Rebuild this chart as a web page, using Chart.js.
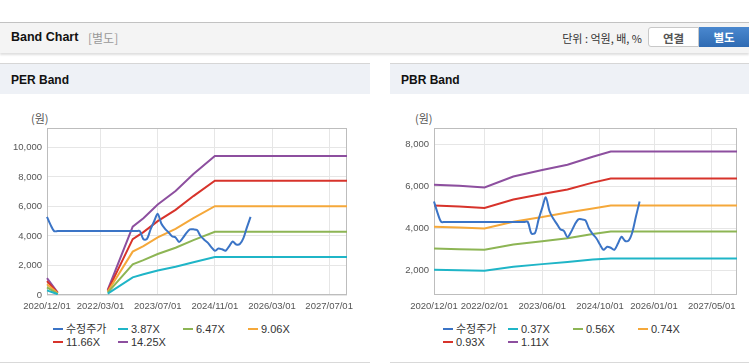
<!DOCTYPE html>
<html>
<head>
<meta charset="utf-8">
<script src="https://cdn.jsdelivr.net/npm/chart.js@4.4.1/dist/chart.umd.min.js"></script>
<style>
body{margin:0;width:749px;height:364px;overflow:hidden;background:#fff;position:relative;
  font-family:"Liberation Sans",Arial,"Noto Sans CJK KR",sans-serif;color:#222;}
.bar{position:absolute;left:0;top:22px;width:749px;height:30px;background:#f4f4f4;
  border-top:1px solid #c2c2c2;box-shadow:0 2px 2px rgba(0,0,0,0.13);}
.bar .ttl{position:absolute;left:11px;top:7px;font-weight:bold;font-size:12.5px;color:#111;}
.bar .sub{position:absolute;left:88px;top:7px;font-size:12px;color:#999;font-family:"Noto Sans CJK KR",sans-serif;line-height:15px;}
.bar .unit{position:absolute;right:107px;top:8px;font-size:11px;color:#333;font-family:"Noto Sans CJK KR",sans-serif;line-height:14px;}
.btn{position:absolute;top:4px;height:20px;line-height:20px;text-align:center;font-size:11.5px;font-weight:bold;
  font-family:"Noto Sans CJK KR",sans-serif;box-sizing:border-box;}
.b1{left:648px;width:51px;background:#fff;border:1px solid #c8c8c8;border-radius:3px 0 0 3px;color:#555;}
.b2{left:699px;width:50px;background:linear-gradient(#4a88cf,#2f6bb3);color:#fff;}
.ph{position:absolute;top:63px;height:30px;background:#eef1f6;border-top:1px solid #d6d6d6;}
.ph span{position:absolute;left:11px;top:9px;font-weight:bold;font-size:12px;color:#111;}
.pb{position:absolute;top:94px;height:268px;border-bottom:1px solid #d9d9d9;background:#fff;}
.won{position:absolute;top:110px;font-size:11px;color:#555;font-family:"Noto Sans CJK KR",sans-serif;}
canvas{position:absolute;top:100px;}
.lg{position:absolute;top:323px;display:grid;grid-template-columns:65px 65px 65px 65px;row-gap:0;}
.lg div{height:13px;line-height:13px;font-size:11px;color:#333;white-space:nowrap;}
.lg i{display:inline-block;width:10px;height:2px;vertical-align:middle;margin-right:3px;position:relative;top:-1px;}
</style>
</head>
<body>
<div class="bar"><span class="ttl">Band Chart</span><span class="sub">[별도]</span>
  <span class="unit">단위 : 억원, 배, %</span>
</div>
<div class="btn b1" style="top:27px">연결</div>
<div class="btn b2" style="top:27px">별도</div>

<div class="ph" style="left:0;width:370px"><span>PER Band</span></div>
<div class="ph" style="left:390px;width:359px"><span>PBR Band</span></div>
<div class="pb" style="left:0;width:370px"></div>
<div class="pb" style="left:390px;width:359px"></div>
<div class="won" style="left:31px">(원)</div>
<div class="won" style="left:415px">(원)</div>

<canvas id="per" width="370" height="220" style="left:0"></canvas>
<canvas id="pbr" width="359" height="220" style="left:390px"></canvas>
<div class="lg" id="perLg" style="left:53px"></div>
<div class="lg" id="pbrLg" style="left:443px"></div>

<script>
// monthly categories 2020/12/01 .. 2027/12/01
var months = [];
for (var k = 0; k <= 84; k++) {
  var t = 2020 * 12 + 11 + k;
  months.push(Math.floor(t / 12) + '/' + String(t % 12 + 1).padStart(2, '0') + '/01');
}

var perTicks = ['2020/12/01', '2022/03/01', '2023/07/01', '2024/11/01', '2026/03/01', '2027/07/01'];
var pbrTicks = ['2020/12/01', '2022/02/01', '2023/06/01', '2024/10/01', '2026/01/01', '2027/05/01'];
var perYTicks = [0, 2000, 4000, 6000, 8000, 10000];
var pbrYTicks = [2000, 4000, 6000, 8000];

// 수정주가 (monthly)
var price = [5300, 4750,
  4330, 4330, 4330, 4330, 4330, 4330, 4330, 4330, 4330, 4330, 4330, 4330, 4330,
  4330, 4330, 4330, 4330, 4330, 4330, 4330, 4330, 4330, 4330, 4330, 4330,
  3780, 3800, 4450, 5000, 5500, 4850, 4500, 4250, 3980, 3900, 3600, 3850, 4200,
  4450, 4450, 4400, 4000, 3750, 3550, 3250, 3000, 3150, 3100, 3000, 3300, 3620,
  3420, 3450, 3850, 4600, 5300];

// PER band lines
var perBandDates = ['2020/12/01', '2021/03/01', '2021/04/01', '2022/05/01', '2022/12/01', '2023/03/01',
  '2023/07/01', '2023/12/01', '2024/05/01', '2024/11/01', '2027/12/01'];
var per387 = [310, 50, null, 90, 1200, 1410, 1665, 1915, 2225, 2570, 2570];
var per647 = [520, 80, null, 155, 2080, 2360, 2780, 3200, 3720, 4290, 4290];
var per906 = [730, 110, null, 215, 2940, 3310, 3900, 4485, 5210, 6020, 6020];
var per1166 = [940, 140, null, 280, 3790, 4260, 5010, 5770, 6705, 7750, 7750];
var per1425 = [1150, 170, null, 340, 4630, 5200, 6130, 7050, 8195, 9430, 9430];

// PBR band lines
var pbrBandDates = ['2020/12/01', '2021/07/01', '2022/02/01', '2022/10/01', '2023/06/01',
  '2024/01/01', '2024/08/01', '2025/01/01', '2027/12/01'];
var pbr037 = [2050, 2030, 2000, 2190, 2320, 2420, 2540, 2590, 2590];
var pbr056 = [3060, 3030, 3000, 3250, 3410, 3550, 3750, 3870, 3870];
var pbr074 = [4100, 4060, 4020, 4340, 4560, 4780, 4970, 5110, 5110];
var pbr093 = [5110, 5060, 4990, 5400, 5660, 5870, 6200, 6400, 6400];
var pbr111 = [6100, 6050, 5970, 6490, 6800, 7050, 7430, 7680, 7680];

var colors = ['#3b74c6', '#1fb5c7', '#8db554', '#f5a83a', '#d7332b', '#8d4f9f'];

function band(dates, vals) {
  return dates.map(function (d, i) { return { x: d, y: vals[i] }; });
}

var frame = {
  id: 'frame',
  beforeDatasetsDraw: function (chart) {
    var a = chart.chartArea, c = chart.ctx;
    c.save();
    c.strokeStyle = '#bdbdbd';
    c.lineWidth = 1;
    c.strokeRect(Math.round(a.left) + 0.5, Math.round(a.top) + 0.5,
      Math.round(a.right - a.left) - 1, Math.round(a.bottom - a.top) - 1);
    c.restore();
  }
};

function makeChart(id, names, series, xTicks, yTicks, yMin, yMax, yw, padR) {
  var ds = series.map(function (d, i) {
    return {
      label: names[i], data: d, borderColor: colors[i], backgroundColor: colors[i],
      borderWidth: 2, pointRadius: 0, tension: i === 0 ? 0.3 : 0, spanGaps: false, fill: false
    };
  });
  new Chart(document.getElementById(id), {
    type: 'line',
    data: { labels: months, datasets: ds },
    options: {
      responsive: false, animation: false, devicePixelRatio: 1,
      layout: { padding: { top: 28, right: padR, left: 0, bottom: 0 } },
      plugins: { legend: { display: false }, tooltip: { enabled: false } },
      scales: {
        x: {
          type: 'category',
          afterBuildTicks: function (s) { s.ticks = xTicks.map(function (l) { return { value: months.indexOf(l) }; }); },
          afterFit: function (s) { s.height = 25; },
          grid: { color: '#e6e6e6', drawTicks: false },
          border: { display: false },
          ticks: { autoSkip: false, maxRotation: 0, padding: 6, color: '#555',
            font: { family: 'Liberation Sans', size: 9.5 } }
        },
        y: {
          min: yMin, max: yMax,
          afterBuildTicks: function (s) { s.ticks = yTicks.map(function (v) { return { value: v }; }); },
          afterFit: function (s) { s.width = yw; },
          grid: { color: '#e6e6e6', drawTicks: false },
          border: { display: false },
          ticks: { padding: 5, color: '#555', font: { family: 'Liberation Sans', size: 9.5 },
            callback: function (v) { return v.toLocaleString('en-US'); } }
        }
      }
    },
    plugins: [frame]
  });
}

function legend(id, names) {
  var el = document.getElementById(id);
  names.forEach(function (n, i) {
    var d = document.createElement('div');
    var m = document.createElement('i');
    m.style.background = colors[i];
    d.appendChild(m);
    d.appendChild(document.createTextNode(n));
    el.appendChild(d);
  });
}

var perNames = ['수정주가', '3.87X', '6.47X', '9.06X', '11.66X', '14.25X'];
var pbrNames = ['수정주가', '0.37X', '0.56X', '0.74X', '0.93X', '1.11X'];

makeChart('per', perNames,
  [price, band(perBandDates, per387), band(perBandDates, per647), band(perBandDates, per906),
   band(perBandDates, per1166), band(perBandDates, per1425)],
  perTicks, perYTicks, 0, 11320, 47, 23);
makeChart('pbr', pbrNames,
  [price, band(pbrBandDates, pbr037), band(pbrBandDates, pbr056), band(pbrBandDates, pbr074),
   band(pbrBandDates, pbr093), band(pbrBandDates, pbr111)],
  pbrTicks, pbrYTicks, 850, 8800, 44, 12);

legend('perLg', perNames);
legend('pbrLg', pbrNames);
</script>
</body>
</html>
